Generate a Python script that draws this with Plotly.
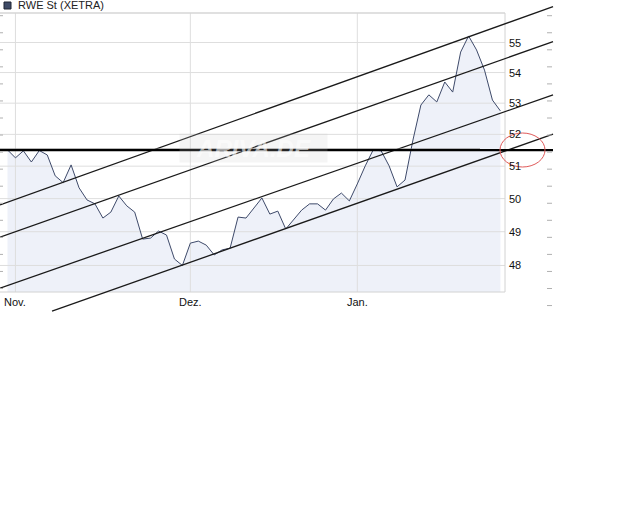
import math
import plotly.graph_objects as go

W, H = 640, 512

# ---------------- data ----------------
title = "RWE St (XETRA)"
month_labels = ["Nov.", "Dez.", "Jan."]
month_index = [1, 23, 44]          # trading-day index of first day of month
y_tick_values = [48, 49, 50, 51, 52, 53, 54, 55]
grid_values = [48, 49, 50, 51, 52, 53, 54, 55, 56]

close = [51.51, 51.26, 51.48, 51.13, 51.49, 51.35, 50.70, 50.49, 51.04, 50.33,
         49.96, 49.84, 49.41, 49.59, 50.08, 49.78, 49.59, 48.78, 48.81, 49.02,
         48.90, 48.19, 48.00, 48.66, 48.72, 48.60, 48.31, 48.46, 48.51, 49.44,
         49.41, 49.71, 50.02, 49.53, 49.62, 49.08, 49.35, 49.65, 49.84, 49.84,
         49.65, 49.99, 50.17, 49.93, 50.45, 51.01, 51.51, 51.48, 51.01, 50.36,
         50.57, 51.82, 52.94, 53.27, 53.04, 53.69, 53.36, 54.68, 55.22, 54.75,
         54.08, 53.10, 52.75]
day_index = list(range(len(close)))

# trend channel lines (start index, start price) -> (end index, end price)
channel_start_idx = [-0.94, -0.94, -0.94, 5.60]
channel_start_val = [49.81, 48.84, 47.34, 46.68]
channel_end_idx = [68.62, 68.62, 68.62, 68.62]
channel_end_val = [56.22, 55.03, 53.27, 52.01]

hline_val = 51.50
hline_prev_val = 51.53

# ---------------- calibration (layout) ----------------
PX_PER_DAY = 7.95
X_OF_DAY0 = 7.5
PX_PER_LN = 1638.0
REF_PRICE, REF_PX = 55.0, 42.5


def px_to_idx(px):
    return (px - X_OF_DAY0) / PX_PER_DAY


def px_to_price(py):
    return REF_PRICE * math.exp((REF_PX - py) / PX_PER_LN)


x_range = [px_to_idx(0), px_to_idx(W)]
y_range = [math.log10(px_to_price(H)), math.log10(px_to_price(0))]

frame_left = px_to_idx(0)
frame_right = px_to_idx(505)
frame_top = px_to_price(13)
frame_bottom = px_to_price(292)

GRID = "#DEDEDE"
FILL = "#EEF1F9"
LINE = "#3E4A6A"

fig = go.Figure()

# area fill
fig.add_trace(go.Scatter(x=day_index, y=[frame_bottom] * len(close), mode="lines",
                         line=dict(width=0), hoverinfo="skip", showlegend=False))
fig.add_trace(go.Scatter(x=day_index, y=close, mode="lines", fill="tonexty",
                         fillcolor=FILL, line=dict(width=0), hoverinfo="skip",
                         showlegend=False))

# gridlines
gx, gy = [], []
for v in grid_values:
    gx += [frame_left, frame_right, None]
    gy += [v, v, None]
for i in month_index:
    gx += [i, i, None]
    gy += [frame_bottom, frame_top, None]
fig.add_trace(go.Scatter(x=gx, y=gy, mode="lines", line=dict(color=GRID, width=1),
                         hoverinfo="skip", showlegend=False))

# frame (right & bottom)
fig.add_trace(go.Scatter(x=[frame_left, frame_right, frame_right, frame_left],
                         y=[frame_top, frame_top, frame_bottom, frame_bottom],
                         mode="lines", line=dict(color="#D2D2D2", width=1),
                         hoverinfo="skip", showlegend=False))

# price line
fig.add_trace(go.Scatter(x=day_index, y=close, mode="lines",
                         line=dict(color=LINE, width=1), hoverinfo="skip",
                         showlegend=False))

# channel lines
for xs, ys, xe, ye in zip(channel_start_idx, channel_start_val,
                          channel_end_idx, channel_end_val):
    fig.add_trace(go.Scatter(x=[xs, xe], y=[ys, ye], mode="lines",
                             line=dict(color="#1A1A1A", width=1.3),
                             hoverinfo="skip", showlegend=False))

# horizontal lines
fig.add_trace(go.Scatter(x=[px_to_idx(0), px_to_idx(480)], y=[hline_prev_val] * 2,
                         mode="lines", line=dict(color="#707070", width=1.5),
                         hoverinfo="skip", showlegend=False))
fig.add_trace(go.Scatter(x=[px_to_idx(0), px_to_idx(553)], y=[hline_val] * 2,
                         mode="lines", line=dict(color="#000000", width=2.2),
                         hoverinfo="skip", showlegend=False))

annotations = []
# y labels
for v in y_tick_values:
    annotations.append(dict(x=px_to_idx(507), y=math.log10(v), xref="x", yref="y",
                            text=str(v), showarrow=False, xanchor="left",
                            yanchor="middle",
                            font=dict(family="Liberation Sans", size=11, color="#111")))
# x labels
for lab, i in zip(month_labels, month_index):
    annotations.append(dict(x=i, y=1 - 302 / H, xref="x", yref="paper", text=lab,
                            showarrow=False, xanchor="center", yanchor="middle",
                            font=dict(family="Liberation Sans", size=11, color="#111")))
# title
annotations.append(dict(x=16 / W, y=1 - 5 / H, xref="paper", yref="paper",
                        text=title, showarrow=False, xanchor="left", yanchor="middle",
                        font=dict(family="Liberation Sans", size=11, color="#222")))
# watermark
annotations.append(dict(x=253 / W, y=1 - 148 / H, xref="paper", yref="paper",
                        text="<b><i>ARIVA.DE</i></b>", showarrow=False,
                        xanchor="center", yanchor="middle", width=145, height=26,
                        bgcolor="rgba(200,200,200,0.18)",
                        font=dict(family="Liberation Sans", size=24,
                                  color="rgba(255,255,255,0.6)")))

shapes = []
# legend square
shapes.append(dict(type="rect", xref="paper", yref="paper",
                   x0=4 / W, x1=11 / W, y0=1 - 9 / H, y1=1 - 2 / H,
                   fillcolor="#3E4A66", line=dict(color="#1E2433", width=1)))
# red ellipse
shapes.append(dict(type="circle", xref="paper", yref="paper",
                   x0=500 / W, x1=545 / W, y0=1 - 167 / H, y1=1 - 133 / H,
                   line=dict(color="#E05A5A", width=1)))
# decorative tick dashes
for k in range(18):
    py = 15.7 + 17.05 * k
    shapes.append(dict(type="line", xref="paper", yref="paper",
                       x0=547 / W, x1=552 / W, y0=1 - py / H, y1=1 - py / H,
                       line=dict(color="#B0B0B0", width=1)))
    if py < 295:
        shapes.append(dict(type="line", xref="paper", yref="paper",
                           x0=0, x1=3 / W, y0=1 - py / H, y1=1 - py / H,
                           line=dict(color="#B0B0B0", width=1)))

fig.update_layout(
    width=W, height=H,
    margin=dict(l=0, r=0, t=0, b=0, pad=0),
    paper_bgcolor="white", plot_bgcolor="white",
    xaxis=dict(range=x_range, visible=False, fixedrange=True),
    yaxis=dict(type="log", range=y_range, visible=False, fixedrange=True),
    annotations=annotations, shapes=shapes, showlegend=False,
)

fig.write_html("out.html", config=dict(displayModeBar=False),
               post_script="document.body.style.margin='0px';")
